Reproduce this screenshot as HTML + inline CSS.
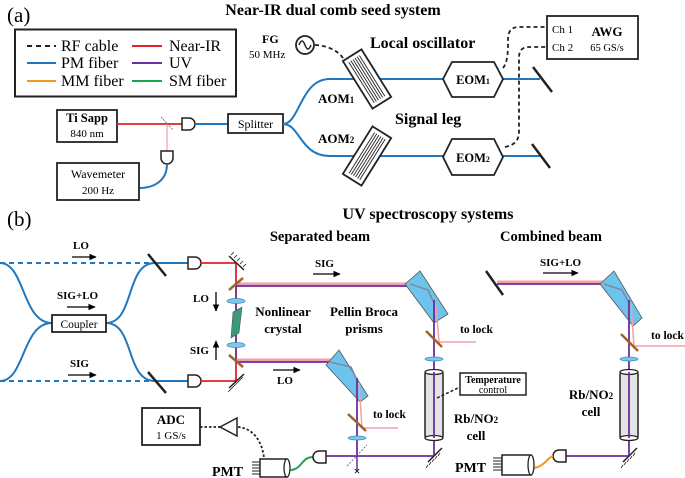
<!DOCTYPE html>
<html><head><meta charset="utf-8"><style>
html,body{margin:0;padding:0;background:#fff;}
svg{display:block;font-family:"Liberation Serif",serif;}
.b{font-weight:bold;}
</style></head><body>
<svg width="685" height="478" viewBox="0 0 685 478" xmlns="http://www.w3.org/2000/svg">
<defs>
<marker id="ar" markerWidth="6" markerHeight="6" refX="5" refY="3" orient="auto"><path d="M0,0.5 L5.5,3 L0,5.5 z" fill="#000"/></marker>
</defs>
<!-- (a) -->
<text x="7" y="22" font-size="21">(a)</text>
<text x="333" y="15" font-size="16" class="b" text-anchor="middle">Near-IR dual comb seed system</text>
<rect x="15" y="29.5" width="221" height="67" fill="none" stroke="#222" stroke-width="2"/>
<line x1="27" y1="46" x2="56" y2="46" stroke="#222" stroke-width="2" stroke-dasharray="5,4"/>
<text x="61" y="51" font-size="16">RF cable</text>
<line x1="132" y1="46" x2="162" y2="46" stroke="#e0202a" stroke-width="2"/>
<text x="169" y="51" font-size="16">Near-IR</text>
<line x1="27" y1="63" x2="56" y2="63" stroke="#1f78c0" stroke-width="2"/>
<text x="61" y="68" font-size="16">PM fiber</text>
<line x1="132" y1="63" x2="162" y2="63" stroke="#6a2ea0" stroke-width="2"/>
<text x="169" y="68" font-size="16">UV</text>
<line x1="27" y1="81" x2="56" y2="81" stroke="#f39a1e" stroke-width="2"/>
<text x="61" y="86" font-size="16">MM fiber</text>
<line x1="132" y1="81" x2="162" y2="81" stroke="#1ea34a" stroke-width="2"/>
<text x="169" y="86" font-size="16">SM fiber</text>

<rect x="57" y="110" width="60" height="32" fill="#fff" stroke="#222" stroke-width="1.8"/>
<text x="87" y="122" font-size="12.5" class="b" text-anchor="middle">Ti Sapp</text>
<text x="87" y="137" font-size="11" text-anchor="middle">840 nm</text>
<line x1="117" y1="124" x2="182" y2="124" stroke="#e0202a" stroke-width="1.8"/>
<line x1="167" y1="124" x2="167" y2="151" stroke="#f0a0a8" stroke-width="1.2"/>
<line x1="161" y1="117" x2="173" y2="130" stroke="#666" stroke-width="0.8" stroke-dasharray="2,1"/>
<path d="M182,118 h7 a6,6 0 0 1 0,12 h-7 z" fill="#fff" stroke="#222" stroke-width="1.5"/>
<path d="M161,151 v7 a6,6 0 0 0 12,0 v-7 z" fill="#fff" stroke="#222" stroke-width="1.5"/>
<path d="M167,164 C167,180 155,188 139,188" fill="none" stroke="#1f78c0" stroke-width="2"/>
<rect x="57" y="163" width="82" height="37" fill="#fff" stroke="#222" stroke-width="1.8"/>
<text x="98" y="178" font-size="12" text-anchor="middle">Wavemeter</text>
<text x="98" y="194" font-size="11" text-anchor="middle">200 Hz</text>
<line x1="195" y1="124" x2="228" y2="124" stroke="#1f78c0" stroke-width="2"/>
<rect x="228" y="114" width="55" height="19" fill="#fff" stroke="#222" stroke-width="1.8"/>
<text x="255.5" y="128" font-size="12" text-anchor="middle">Splitter</text>
<path d="M283,124 C300,124 300,79 330,79 L540,79" fill="none" stroke="#1f78c0" stroke-width="2"/>
<path d="M283,124 C300,124 300,156 330,156 L540,156" fill="none" stroke="#1f78c0" stroke-width="2"/>
<text x="318" y="103" font-size="13" class="b">AOM<tspan font-size="9">1</tspan></text>
<text x="318" y="143" font-size="13" class="b">AOM<tspan font-size="9">2</tspan></text>
<g transform="translate(367,79) rotate(58)">
<rect x="-28" y="-11" width="56" height="22" fill="#fff" stroke="#222" stroke-width="1.8"/>
<g stroke="#222" stroke-width="0.9"><line x1="-24" y1="-6" x2="24" y2="-6"/><line x1="-24" y1="-3.5" x2="24" y2="-3.5"/><line x1="-24" y1="-1" x2="24" y2="-1"/><line x1="-24" y1="1.5" x2="24" y2="1.5"/><line x1="-24" y1="4" x2="24" y2="4"/><line x1="-24" y1="6.5" x2="24" y2="6.5"/></g>
</g>
<g transform="translate(367,156) rotate(-58)">
<rect x="-28" y="-11" width="56" height="22" fill="#fff" stroke="#222" stroke-width="1.8"/>
<g stroke="#222" stroke-width="0.9"><line x1="-24" y1="-6" x2="24" y2="-6"/><line x1="-24" y1="-3.5" x2="24" y2="-3.5"/><line x1="-24" y1="-1" x2="24" y2="-1"/><line x1="-24" y1="1.5" x2="24" y2="1.5"/><line x1="-24" y1="4" x2="24" y2="4"/><line x1="-24" y1="6.5" x2="24" y2="6.5"/></g>
</g>
<text x="262" y="43" font-size="12" class="b">FG</text>
<text x="249" y="58" font-size="11">50 MHz</text>
<circle cx="305" cy="45" r="9" fill="#fff" stroke="#222" stroke-width="1.8"/>
<path d="M299,45 q3,-8 6,0 t6,0" fill="none" stroke="#222" stroke-width="1.5"/>
<path d="M315,45 C330,46 340,52 344,60" fill="none" stroke="#222" stroke-width="1.8" stroke-dasharray="4,3"/>
<text x="370" y="48" font-size="16" class="b">Local oscillator</text>
<text x="395" y="124" font-size="16" class="b">Signal leg</text>
<polygon points="443,79 452,62 494,62 503,79 494,97 452,97" fill="#fff" stroke="#222" stroke-width="1.8"/>
<text x="473" y="84" font-size="12.5" class="b" text-anchor="middle">EOM<tspan font-size="8">1</tspan></text>
<polygon points="443,157 452,139 494,139 503,157 494,175 452,175" fill="#fff" stroke="#222" stroke-width="1.8"/>
<text x="473" y="162" font-size="12.5" class="b" text-anchor="middle">EOM<tspan font-size="8">2</tspan></text>
<line x1="533" y1="67" x2="552" y2="92" stroke="#222" stroke-width="2.5"/>
<line x1="532" y1="144" x2="550" y2="168" stroke="#222" stroke-width="2.5"/>
<rect x="547" y="16" width="91" height="43" fill="#fff" stroke="#222" stroke-width="1.8"/>
<text x="552" y="33" font-size="11">Ch 1</text>
<text x="552" y="51" font-size="11">Ch 2</text>
<text x="607" y="36" font-size="13" class="b" text-anchor="middle">AWG</text>
<text x="607" y="51" font-size="10.5" text-anchor="middle">65 GS/s</text>
<path d="M503,68 C508,62 508,50 508,40 C508,30 512,27 520,27 L547,27" fill="none" stroke="#222" stroke-width="1.8" stroke-dasharray="4,3"/>
<path d="M505,147 C515,145 519,140 519,132 L519,58 C519,50 522,47 530,47 L547,47" fill="none" stroke="#222" stroke-width="1.8" stroke-dasharray="4,3"/>

<!-- (b) -->
<text x="7" y="226" font-size="21">(b)</text>
<text x="428" y="219" font-size="16" class="b" text-anchor="middle">UV spectroscopy systems</text>
<text x="320" y="241" font-size="14.5" class="b" text-anchor="middle">Separated beam</text>
<text x="551" y="241" font-size="14.5" class="b" text-anchor="middle">Combined beam</text>
<line x1="0" y1="263" x2="150" y2="263" stroke="#1f78c0" stroke-width="2" stroke-dasharray="5,4"/>
<line x1="0" y1="381" x2="150" y2="381" stroke="#1f78c0" stroke-width="2" stroke-dasharray="5,4"/>
<g fill="none" stroke="#1f78c0" stroke-width="2">
<path d="M0,263 C25,263 22,323 52,323"/><path d="M0,381 C25,381 22,323 52,323"/>
<path d="M106,323 C135,323 125,263 155,263 L190,263"/><path d="M106,323 C135,323 125,381 155,381 L190,381"/>
</g>
<rect x="52" y="315" width="54" height="17" fill="#fff" stroke="#222" stroke-width="1.8"/>
<text x="79" y="328" font-size="11.5" text-anchor="middle">Coupler</text>
<text x="73" y="249" font-size="11" class="b">LO</text>
<line x1="72" y1="257" x2="96" y2="257" stroke="#000" stroke-width="1.3" marker-end="url(#ar)"/>
<text x="57" y="299" font-size="11" class="b">SIG+LO</text>
<line x1="67" y1="307" x2="95" y2="307" stroke="#000" stroke-width="1.3" marker-end="url(#ar)"/>
<text x="70" y="367" font-size="11" class="b">SIG</text>
<line x1="68" y1="375" x2="96" y2="375" stroke="#000" stroke-width="1.3" marker-end="url(#ar)"/>
<line x1="148" y1="254" x2="166" y2="276" stroke="#222" stroke-width="2.5"/>
<line x1="148" y1="372" x2="166" y2="393" stroke="#222" stroke-width="2.5"/>
<path d="M188,257 h7 a6,6 0 0 1 0,12 h-7 z" fill="#fff" stroke="#222" stroke-width="1.5"/>
<path d="M188,375 h7 a6,6 0 0 1 0,12 h-7 z" fill="#fff" stroke="#222" stroke-width="1.5"/>
<polyline points="200,263 236,263 236,381 200,381" fill="none" stroke="#e0202a" stroke-width="1.8"/>
<g stroke="#222" stroke-width="1.5">
<line x1="229" y1="256" x2="244" y2="270"/>
<line x1="229" y1="388" x2="244" y2="374"/>
</g>
<g stroke="#222" stroke-width="0.8">
<path d="M231,255 l3,-3 M234,258 l3,-3 M237,261 l3,-3 M240,264 l3,-3 M243,267 l3,-3"/>
<path d="M231,389 l-3,3 M234,386 l-3,3 M237,383 l-3,3 M240,380 l-3,3 M243,377 l-3,3"/>
</g>
<g fill="none">
<polyline points="236,284 412,284" stroke="#f0a0a8" stroke-width="3"/>
<polyline points="236,286 412,286" stroke="#6a2ea0" stroke-width="1.8"/>
<polyline points="236,360 333,360" stroke="#f0a0a8" stroke-width="3"/>
<polyline points="236,362 333,362" stroke="#6a2ea0" stroke-width="1.8"/>
<line x1="236" y1="284" x2="236" y2="362" stroke="#6a2ea0" stroke-width="1.5"/>
</g>
<line x1="229" y1="290" x2="243" y2="278" stroke="#a0622a" stroke-width="2.5"/>
<line x1="229" y1="355" x2="243" y2="367" stroke="#a0622a" stroke-width="2.5"/>
<ellipse cx="236" cy="301" rx="9" ry="2.5" fill="#7fc8ea" stroke="#3a8ec0" stroke-width="0.8"/>
<ellipse cx="236" cy="345" rx="9" ry="2.5" fill="#7fc8ea" stroke="#3a8ec0" stroke-width="0.8"/>
<polygon points="233,312 242,307 239,333 231,338" fill="#3a9a7a" stroke="#555" stroke-width="0.6"/>
<text x="193" y="302" font-size="11" class="b">LO</text>
<line x1="216" y1="292" x2="216" y2="311" stroke="#000" stroke-width="1.3" marker-end="url(#ar)"/>
<text x="190" y="354" font-size="11" class="b">SIG</text>
<line x1="216" y1="360" x2="216" y2="341" stroke="#000" stroke-width="1.3" marker-end="url(#ar)"/>
<text x="283" y="316" font-size="13" class="b" text-anchor="middle">Nonlinear</text>
<text x="283" y="333" font-size="13" class="b" text-anchor="middle">crystal</text>
<text x="364" y="316" font-size="13" class="b" text-anchor="middle">Pellin Broca</text>
<text x="364" y="333" font-size="13" class="b" text-anchor="middle">prisms</text>
<text x="315" y="267" font-size="11" class="b">SIG</text>
<line x1="313" y1="274" x2="340" y2="274" stroke="#000" stroke-width="1.3" marker-end="url(#ar)"/>
<text x="277" y="384" font-size="11" class="b">LO</text>
<line x1="273" y1="370" x2="300" y2="370" stroke="#000" stroke-width="1.3" marker-end="url(#ar)"/>
<polygon points="405,284 420,271 448,314 434,323" fill="#6cc4ec" stroke="#555" stroke-width="0.8"/>
<polyline points="410,284 428,290 434,303" fill="none" stroke="#7a8aa8" stroke-width="1.5"/>
<line x1="434" y1="300" x2="434" y2="455" stroke="#6a2ea0" stroke-width="1.8"/>
<polyline points="436,305 439,342 476,342" fill="none" stroke="#f0a0a8" stroke-width="1.5"/>
<line x1="426" y1="331" x2="442" y2="347" stroke="#a0622a" stroke-width="2.5"/>
<text x="460" y="333" font-size="11.5" class="b">to lock</text>
<ellipse cx="434" cy="359" rx="9" ry="2" fill="#7fc8ea" stroke="#3a8ec0" stroke-width="0.8"/>
<rect x="425" y="371" width="18" height="68" rx="3" fill="#e4e4e4" stroke="#222" stroke-width="1.5"/>
<ellipse cx="434" cy="372" rx="9" ry="2.5" fill="#fff" stroke="#222" stroke-width="1.3"/>
<ellipse cx="434" cy="438" rx="9" ry="2.5" fill="#fff" stroke="#222" stroke-width="1.3"/>
<line x1="434" y1="372" x2="434" y2="438" stroke="#6a2ea0" stroke-width="1.8"/>
<rect x="460" y="373" width="66" height="22" fill="#fff" stroke="#222" stroke-width="1.5"/>
<text x="493" y="383" font-size="10" class="b" text-anchor="middle">Temperature</text>
<text x="493" y="393" font-size="10" text-anchor="middle">control</text>
<path d="M437,398 L458,388" stroke="#222" stroke-width="1.5" stroke-dasharray="3,2"/>
<text x="476" y="423" font-size="13" class="b" text-anchor="middle">Rb/NO<tspan font-size="9">2</tspan></text>
<text x="476" y="440" font-size="13" class="b" text-anchor="middle">cell</text>
<polygon points="326,365 339,350 368,396 360,402" fill="#6cc4ec" stroke="#555" stroke-width="0.8"/>
<polyline points="330,362 351,367 357,380" fill="none" stroke="#7a8aa8" stroke-width="1.5"/>
<line x1="357" y1="378" x2="357" y2="455" stroke="#6a2ea0" stroke-width="1.8"/>
<polyline points="359,383 362,428 398,428" fill="none" stroke="#f0a0a8" stroke-width="1.5"/>
<line x1="348" y1="414" x2="366" y2="431" stroke="#a0622a" stroke-width="2.5"/>
<text x="373" y="418" font-size="11.5" class="b">to lock</text>
<ellipse cx="357" cy="438" rx="9" ry="2" fill="#7fc8ea" stroke="#3a8ec0" stroke-width="0.8"/>
<line x1="326" y1="456" x2="434" y2="456" stroke="#6a2ea0" stroke-width="1.8"/>
<line x1="347" y1="466" x2="367" y2="445" stroke="#555" stroke-width="0.8" stroke-dasharray="2,1.5"/>
<line x1="357" y1="456" x2="357" y2="470" stroke="#6a2ea0" stroke-width="1.5"/>
<text x="357" y="475" font-size="12" text-anchor="middle" class="b">×</text>
<line x1="428" y1="462" x2="442" y2="448" stroke="#222" stroke-width="1.5"/>
<path d="M428,465 l-2,3 M431,462 l-2,3 M434,459 l-2,3 M437,456 l-2,3 M440,453 l-2,3" stroke="#222" stroke-width="0.8"/>
<rect x="142" y="408" width="58" height="37" fill="#fff" stroke="#222" stroke-width="1.8"/>
<text x="171" y="424" font-size="13" class="b" text-anchor="middle">ADC</text>
<text x="171" y="439" font-size="11" text-anchor="middle">1 GS/s</text>
<line x1="200" y1="427" x2="220" y2="427" stroke="#222" stroke-width="1.8" stroke-dasharray="2.5,2"/>
<polygon points="220,427 237,418 237,436" fill="#fff" stroke="#222" stroke-width="1.5"/>
<path d="M238,427 C252,428 262,440 264,458" fill="none" stroke="#222" stroke-width="1.8" stroke-dasharray="2.5,2"/>
<text x="212" y="476" font-size="14" class="b">PMT</text>
<g stroke="#222" stroke-width="1"><line x1="252" y1="462" x2="260" y2="462"/><line x1="252" y1="465" x2="260" y2="465"/><line x1="252" y1="468" x2="260" y2="468"/><line x1="252" y1="471" x2="260" y2="471"/><line x1="252" y1="474" x2="260" y2="474"/></g>
<rect x="260" y="459" width="27" height="18" fill="#fff" stroke="#222" stroke-width="1.5"/>
<ellipse cx="287" cy="468" rx="3" ry="9" fill="#fff" stroke="#222" stroke-width="1.3"/>
<path d="M290,470 C300,470 302,460 308,458 C312,456 313,458 315,457" fill="none" stroke="#1ea34a" stroke-width="2"/>
<path d="M326,451 h-7 a6,6 0 0 0 0,12 h7 z" fill="#fff" stroke="#222" stroke-width="1.5"/>
<line x1="486" y1="271" x2="503" y2="295" stroke="#222" stroke-width="2.5"/>
<line x1="497" y1="282" x2="608" y2="282" stroke="#f0a0a8" stroke-width="3"/>
<line x1="497" y1="284" x2="608" y2="284" stroke="#6a2ea0" stroke-width="1.8"/>
<text x="540" y="266" font-size="11" class="b">SIG+LO</text>
<line x1="543" y1="273" x2="578" y2="273" stroke="#000" stroke-width="1.3" marker-end="url(#ar)"/>
<polygon points="600,284 614,271 642,318 633,326" fill="#6cc4ec" stroke="#555" stroke-width="0.8"/>
<polyline points="604,284 622,290 629,303" fill="none" stroke="#7a8aa8" stroke-width="1.5"/>
<line x1="629" y1="300" x2="629" y2="455" stroke="#6a2ea0" stroke-width="1.8"/>
<polyline points="631,305 634,346 685,346" fill="none" stroke="#f0a0a8" stroke-width="1.5"/>
<line x1="621" y1="334" x2="638" y2="351" stroke="#a0622a" stroke-width="2.5"/>
<text x="651" y="339" font-size="11.5" class="b">to lock</text>
<ellipse cx="629" cy="359" rx="9" ry="2" fill="#7fc8ea" stroke="#3a8ec0" stroke-width="0.8"/>
<rect x="620" y="371" width="18" height="68" rx="3" fill="#e4e4e4" stroke="#222" stroke-width="1.5"/>
<ellipse cx="629" cy="372" rx="9" ry="2.5" fill="#fff" stroke="#222" stroke-width="1.3"/>
<ellipse cx="629" cy="438" rx="9" ry="2.5" fill="#fff" stroke="#222" stroke-width="1.3"/>
<line x1="629" y1="372" x2="629" y2="438" stroke="#6a2ea0" stroke-width="1.8"/>
<text x="591" y="399" font-size="13" class="b" text-anchor="middle">Rb/NO<tspan font-size="9">2</tspan></text>
<text x="591" y="416" font-size="13" class="b" text-anchor="middle">cell</text>
<line x1="565" y1="456" x2="629" y2="456" stroke="#6a2ea0" stroke-width="1.8"/>
<line x1="623" y1="462" x2="637" y2="448" stroke="#222" stroke-width="1.5"/>
<path d="M623,465 l-2,3 M626,462 l-2,3 M629,459 l-2,3 M632,456 l-2,3 M635,453 l-2,3" stroke="#222" stroke-width="0.8"/>
<path d="M566,450 h-7 a6,6 0 0 0 0,12 h7 z" fill="#fff" stroke="#222" stroke-width="1.5"/>
<path d="M534,468 C545,466 547,458 553,456" fill="none" stroke="#f39a1e" stroke-width="2"/>
<text x="455" y="472" font-size="14" class="b">PMT</text>
<g stroke="#222" stroke-width="1"><line x1="493" y1="458" x2="502" y2="458"/><line x1="493" y1="461" x2="502" y2="461"/><line x1="493" y1="464" x2="502" y2="464"/><line x1="493" y1="467" x2="502" y2="467"/><line x1="493" y1="470" x2="502" y2="470"/></g>
<rect x="502" y="455" width="29" height="20" fill="#fff" stroke="#222" stroke-width="1.5"/>
<ellipse cx="531" cy="465" rx="3" ry="10" fill="#fff" stroke="#222" stroke-width="1.3"/>
</svg>
</body></html>
